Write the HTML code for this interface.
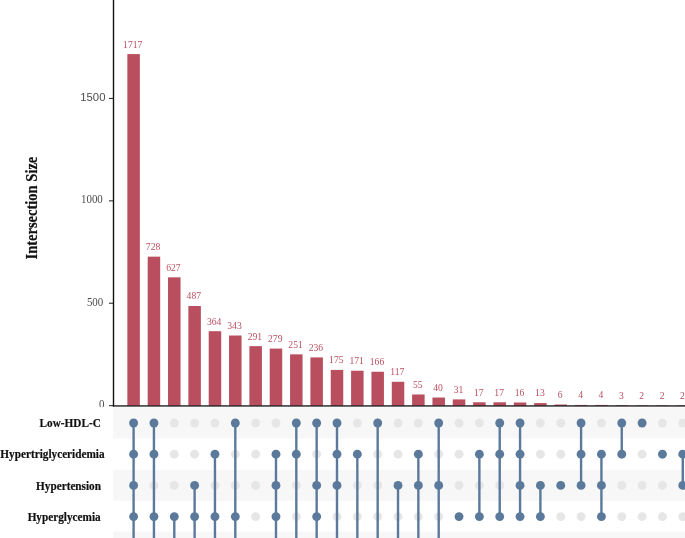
<!DOCTYPE html><html><head><meta charset="utf-8"><title>UpSet</title><style>html,body{margin:0;padding:0;background:#fff}svg{display:block}text{font-family:"Liberation Serif",serif}.s{font-family:"Liberation Sans",sans-serif}</style></head><body>
<svg width="685" height="538" viewBox="0 0 685 538">
<rect width="685" height="538" fill="#fff"/>
<text class="s" x="80.3" y="100.5" font-size="11.3" fill="#4d4d4d">1500</text>
<text transform="translate(81.0,203.3) scale(0.95,1)" font-size="11.5" fill="#4d4d4d">1000</text>
<text transform="translate(86.9,305.9) scale(0.95,1)" font-size="11.5" fill="#4d4d4d">500</text>
<text transform="translate(99.1,407.9) scale(0.95,1)" font-size="11.5" fill="#4d4d4d">0</text>
<rect x="0" y="407.1" width="113.2" height="131" fill="#fff"/>
<rect x="113.2" y="407.5" width="572" height="31.10" fill="#f7f7f7"/>
<rect x="113.2" y="469.7" width="572" height="31.10" fill="#f7f7f7"/>
<rect x="113.2" y="531.6" width="572" height="8.40" fill="#f7f7f7"/>
<rect x="127.35" y="54.11" width="12.5" height="351.64" fill="#b94e5f"/>
<text transform="translate(132.70,47.51) scale(0.945,1)" font-size="10.2" fill="#b94e5f" text-anchor="middle">1717</text>
<rect x="147.69" y="256.66" width="12.5" height="149.09" fill="#b94e5f"/>
<text transform="translate(153.06,250.06) scale(0.945,1)" font-size="10.2" fill="#b94e5f" text-anchor="middle">728</text>
<rect x="168.03" y="277.34" width="12.5" height="128.41" fill="#b94e5f"/>
<text transform="translate(173.42,270.74) scale(0.945,1)" font-size="10.2" fill="#b94e5f" text-anchor="middle">627</text>
<rect x="188.37" y="306.01" width="12.5" height="99.74" fill="#b94e5f"/>
<text transform="translate(193.78,299.41) scale(0.945,1)" font-size="10.2" fill="#b94e5f" text-anchor="middle">487</text>
<rect x="208.71" y="331.20" width="12.5" height="74.55" fill="#b94e5f"/>
<text transform="translate(214.14,324.60) scale(0.945,1)" font-size="10.2" fill="#b94e5f" text-anchor="middle">364</text>
<rect x="229.05" y="335.50" width="12.5" height="70.25" fill="#b94e5f"/>
<text transform="translate(234.50,328.90) scale(0.945,1)" font-size="10.2" fill="#b94e5f" text-anchor="middle">343</text>
<rect x="249.39" y="346.15" width="12.5" height="59.60" fill="#b94e5f"/>
<text transform="translate(254.86,339.55) scale(0.945,1)" font-size="10.2" fill="#b94e5f" text-anchor="middle">291</text>
<rect x="269.73" y="348.61" width="12.5" height="57.14" fill="#b94e5f"/>
<text transform="translate(275.22,342.01) scale(0.945,1)" font-size="10.2" fill="#b94e5f" text-anchor="middle">279</text>
<rect x="290.07" y="354.35" width="12.5" height="51.40" fill="#b94e5f"/>
<text transform="translate(295.58,347.75) scale(0.945,1)" font-size="10.2" fill="#b94e5f" text-anchor="middle">251</text>
<rect x="310.41" y="357.42" width="12.5" height="48.33" fill="#b94e5f"/>
<text transform="translate(315.94,350.82) scale(0.945,1)" font-size="10.2" fill="#b94e5f" text-anchor="middle">236</text>
<rect x="330.75" y="369.91" width="12.5" height="35.84" fill="#b94e5f"/>
<text transform="translate(336.30,363.31) scale(0.945,1)" font-size="10.2" fill="#b94e5f" text-anchor="middle">175</text>
<rect x="351.09" y="370.73" width="12.5" height="35.02" fill="#b94e5f"/>
<text transform="translate(356.66,364.13) scale(0.945,1)" font-size="10.2" fill="#b94e5f" text-anchor="middle">171</text>
<rect x="371.43" y="371.75" width="12.5" height="34.00" fill="#b94e5f"/>
<text transform="translate(377.02,365.15) scale(0.945,1)" font-size="10.2" fill="#b94e5f" text-anchor="middle">166</text>
<rect x="391.77" y="381.79" width="12.5" height="23.96" fill="#b94e5f"/>
<text transform="translate(397.38,375.19) scale(0.945,1)" font-size="10.2" fill="#b94e5f" text-anchor="middle">117</text>
<rect x="412.11" y="394.49" width="12.5" height="11.26" fill="#b94e5f"/>
<text transform="translate(417.74,387.89) scale(0.945,1)" font-size="10.2" fill="#b94e5f" text-anchor="middle">55</text>
<rect x="432.45" y="397.56" width="12.5" height="8.19" fill="#b94e5f"/>
<text transform="translate(438.10,390.96) scale(0.945,1)" font-size="10.2" fill="#b94e5f" text-anchor="middle">40</text>
<rect x="452.79" y="399.40" width="12.5" height="6.35" fill="#b94e5f"/>
<text transform="translate(458.46,392.80) scale(0.945,1)" font-size="10.2" fill="#b94e5f" text-anchor="middle">31</text>
<rect x="473.13" y="402.27" width="12.5" height="3.48" fill="#b94e5f"/>
<text transform="translate(478.82,395.67) scale(0.945,1)" font-size="10.2" fill="#b94e5f" text-anchor="middle">17</text>
<rect x="493.47" y="402.27" width="12.5" height="3.48" fill="#b94e5f"/>
<text transform="translate(499.18,395.67) scale(0.945,1)" font-size="10.2" fill="#b94e5f" text-anchor="middle">17</text>
<rect x="513.81" y="402.47" width="12.5" height="3.28" fill="#b94e5f"/>
<text transform="translate(519.54,395.87) scale(0.945,1)" font-size="10.2" fill="#b94e5f" text-anchor="middle">16</text>
<rect x="534.15" y="403.09" width="12.5" height="2.66" fill="#b94e5f"/>
<text transform="translate(539.90,396.49) scale(0.945,1)" font-size="10.2" fill="#b94e5f" text-anchor="middle">13</text>
<rect x="554.49" y="404.52" width="12.5" height="1.23" fill="#b94e5f"/>
<text transform="translate(560.26,397.92) scale(0.945,1)" font-size="10.2" fill="#b94e5f" text-anchor="middle">6</text>
<rect x="574.83" y="404.93" width="12.5" height="0.82" fill="#b94e5f"/>
<text transform="translate(580.62,398.33) scale(0.945,1)" font-size="10.2" fill="#b94e5f" text-anchor="middle">4</text>
<rect x="595.17" y="404.93" width="12.5" height="0.82" fill="#b94e5f"/>
<text transform="translate(600.98,398.33) scale(0.945,1)" font-size="10.2" fill="#b94e5f" text-anchor="middle">4</text>
<rect x="615.51" y="405.14" width="12.5" height="0.61" fill="#b94e5f"/>
<text transform="translate(621.34,398.54) scale(0.945,1)" font-size="10.2" fill="#b94e5f" text-anchor="middle">3</text>
<rect x="635.85" y="405.34" width="12.5" height="0.41" fill="#b94e5f"/>
<text transform="translate(641.70,398.74) scale(0.945,1)" font-size="10.2" fill="#b94e5f" text-anchor="middle">2</text>
<rect x="656.19" y="405.34" width="12.5" height="0.41" fill="#b94e5f"/>
<text transform="translate(662.06,398.74) scale(0.945,1)" font-size="10.2" fill="#b94e5f" text-anchor="middle">2</text>
<rect x="676.53" y="405.34" width="12.5" height="0.41" fill="#b94e5f"/>
<text transform="translate(682.42,398.74) scale(0.945,1)" font-size="10.2" fill="#b94e5f" text-anchor="middle">2</text>
<rect x="109" y="405.10" width="4.5" height="1.1" fill="#333"/>
<rect x="109" y="302.70" width="4.5" height="1.1" fill="#333"/>
<rect x="109" y="200.30" width="4.5" height="1.1" fill="#333"/>
<rect x="109" y="97.90" width="4.5" height="1.1" fill="#333"/>
<rect x="112.8" y="0" width="1.4" height="406.3" fill="#111"/>
<rect x="112.8" y="405.3" width="573" height="1.3" fill="#111"/>
<circle cx="153.94" cy="485.40" r="4.45" fill="#e6e6e6"/>
<circle cx="174.28" cy="423.00" r="4.45" fill="#e6e6e6"/>
<circle cx="174.28" cy="454.20" r="4.45" fill="#e6e6e6"/>
<circle cx="174.28" cy="485.40" r="4.45" fill="#e6e6e6"/>
<circle cx="194.62" cy="423.00" r="4.45" fill="#e6e6e6"/>
<circle cx="194.62" cy="454.20" r="4.45" fill="#e6e6e6"/>
<circle cx="214.96" cy="423.00" r="4.45" fill="#e6e6e6"/>
<circle cx="214.96" cy="485.40" r="4.45" fill="#e6e6e6"/>
<circle cx="235.30" cy="454.20" r="4.45" fill="#e6e6e6"/>
<circle cx="235.30" cy="485.40" r="4.45" fill="#e6e6e6"/>
<circle cx="255.64" cy="423.00" r="4.45" fill="#e6e6e6"/>
<circle cx="255.64" cy="454.20" r="4.45" fill="#e6e6e6"/>
<circle cx="255.64" cy="485.40" r="4.45" fill="#e6e6e6"/>
<circle cx="255.64" cy="516.60" r="4.45" fill="#e6e6e6"/>
<circle cx="275.98" cy="423.00" r="4.45" fill="#e6e6e6"/>
<circle cx="296.32" cy="485.40" r="4.45" fill="#e6e6e6"/>
<circle cx="296.32" cy="516.60" r="4.45" fill="#e6e6e6"/>
<circle cx="316.66" cy="454.20" r="4.45" fill="#e6e6e6"/>
<circle cx="337.00" cy="516.60" r="4.45" fill="#e6e6e6"/>
<circle cx="357.34" cy="423.00" r="4.45" fill="#e6e6e6"/>
<circle cx="357.34" cy="485.40" r="4.45" fill="#e6e6e6"/>
<circle cx="357.34" cy="516.60" r="4.45" fill="#e6e6e6"/>
<circle cx="377.68" cy="454.20" r="4.45" fill="#e6e6e6"/>
<circle cx="377.68" cy="485.40" r="4.45" fill="#e6e6e6"/>
<circle cx="377.68" cy="516.60" r="4.45" fill="#e6e6e6"/>
<circle cx="398.02" cy="423.00" r="4.45" fill="#e6e6e6"/>
<circle cx="398.02" cy="454.20" r="4.45" fill="#e6e6e6"/>
<circle cx="398.02" cy="516.60" r="4.45" fill="#e6e6e6"/>
<circle cx="418.36" cy="423.00" r="4.45" fill="#e6e6e6"/>
<circle cx="418.36" cy="516.60" r="4.45" fill="#e6e6e6"/>
<circle cx="438.70" cy="454.20" r="4.45" fill="#e6e6e6"/>
<circle cx="438.70" cy="516.60" r="4.45" fill="#e6e6e6"/>
<circle cx="459.04" cy="423.00" r="4.45" fill="#e6e6e6"/>
<circle cx="459.04" cy="454.20" r="4.45" fill="#e6e6e6"/>
<circle cx="459.04" cy="485.40" r="4.45" fill="#e6e6e6"/>
<circle cx="459.04" cy="547.80" r="4.45" fill="#e6e6e6"/>
<circle cx="479.38" cy="423.00" r="4.45" fill="#e6e6e6"/>
<circle cx="479.38" cy="485.40" r="4.45" fill="#e6e6e6"/>
<circle cx="479.38" cy="547.80" r="4.45" fill="#e6e6e6"/>
<circle cx="499.72" cy="485.40" r="4.45" fill="#e6e6e6"/>
<circle cx="499.72" cy="547.80" r="4.45" fill="#e6e6e6"/>
<circle cx="520.06" cy="547.80" r="4.45" fill="#e6e6e6"/>
<circle cx="540.40" cy="423.00" r="4.45" fill="#e6e6e6"/>
<circle cx="540.40" cy="454.20" r="4.45" fill="#e6e6e6"/>
<circle cx="540.40" cy="547.80" r="4.45" fill="#e6e6e6"/>
<circle cx="560.74" cy="423.00" r="4.45" fill="#e6e6e6"/>
<circle cx="560.74" cy="454.20" r="4.45" fill="#e6e6e6"/>
<circle cx="560.74" cy="516.60" r="4.45" fill="#e6e6e6"/>
<circle cx="560.74" cy="547.80" r="4.45" fill="#e6e6e6"/>
<circle cx="581.08" cy="516.60" r="4.45" fill="#e6e6e6"/>
<circle cx="581.08" cy="547.80" r="4.45" fill="#e6e6e6"/>
<circle cx="601.42" cy="423.00" r="4.45" fill="#e6e6e6"/>
<circle cx="601.42" cy="547.80" r="4.45" fill="#e6e6e6"/>
<circle cx="621.76" cy="485.40" r="4.45" fill="#e6e6e6"/>
<circle cx="621.76" cy="516.60" r="4.45" fill="#e6e6e6"/>
<circle cx="621.76" cy="547.80" r="4.45" fill="#e6e6e6"/>
<circle cx="642.10" cy="454.20" r="4.45" fill="#e6e6e6"/>
<circle cx="642.10" cy="485.40" r="4.45" fill="#e6e6e6"/>
<circle cx="642.10" cy="516.60" r="4.45" fill="#e6e6e6"/>
<circle cx="642.10" cy="547.80" r="4.45" fill="#e6e6e6"/>
<circle cx="662.44" cy="423.00" r="4.45" fill="#e6e6e6"/>
<circle cx="662.44" cy="485.40" r="4.45" fill="#e6e6e6"/>
<circle cx="662.44" cy="516.60" r="4.45" fill="#e6e6e6"/>
<circle cx="662.44" cy="547.80" r="4.45" fill="#e6e6e6"/>
<circle cx="682.78" cy="423.00" r="4.45" fill="#e6e6e6"/>
<circle cx="682.78" cy="516.60" r="4.45" fill="#e6e6e6"/>
<circle cx="682.78" cy="547.80" r="4.45" fill="#e6e6e6"/>
<line x1="133.60" x2="133.60" y1="423.00" y2="547.80" stroke="#5b7a9b" stroke-width="2.4"/>
<circle cx="133.60" cy="423.00" r="4.45" fill="#5b7a9b"/>
<circle cx="133.60" cy="454.20" r="4.45" fill="#5b7a9b"/>
<circle cx="133.60" cy="485.40" r="4.45" fill="#5b7a9b"/>
<circle cx="133.60" cy="516.60" r="4.45" fill="#5b7a9b"/>
<circle cx="133.60" cy="547.80" r="4.45" fill="#5b7a9b"/>
<line x1="153.94" x2="153.94" y1="423.00" y2="547.80" stroke="#5b7a9b" stroke-width="2.4"/>
<circle cx="153.94" cy="423.00" r="4.45" fill="#5b7a9b"/>
<circle cx="153.94" cy="454.20" r="4.45" fill="#5b7a9b"/>
<circle cx="153.94" cy="516.60" r="4.45" fill="#5b7a9b"/>
<circle cx="153.94" cy="547.80" r="4.45" fill="#5b7a9b"/>
<line x1="174.28" x2="174.28" y1="516.60" y2="547.80" stroke="#5b7a9b" stroke-width="2.4"/>
<circle cx="174.28" cy="516.60" r="4.45" fill="#5b7a9b"/>
<circle cx="174.28" cy="547.80" r="4.45" fill="#5b7a9b"/>
<line x1="194.62" x2="194.62" y1="485.40" y2="547.80" stroke="#5b7a9b" stroke-width="2.4"/>
<circle cx="194.62" cy="485.40" r="4.45" fill="#5b7a9b"/>
<circle cx="194.62" cy="516.60" r="4.45" fill="#5b7a9b"/>
<circle cx="194.62" cy="547.80" r="4.45" fill="#5b7a9b"/>
<line x1="214.96" x2="214.96" y1="454.20" y2="547.80" stroke="#5b7a9b" stroke-width="2.4"/>
<circle cx="214.96" cy="454.20" r="4.45" fill="#5b7a9b"/>
<circle cx="214.96" cy="516.60" r="4.45" fill="#5b7a9b"/>
<circle cx="214.96" cy="547.80" r="4.45" fill="#5b7a9b"/>
<line x1="235.30" x2="235.30" y1="423.00" y2="547.80" stroke="#5b7a9b" stroke-width="2.4"/>
<circle cx="235.30" cy="423.00" r="4.45" fill="#5b7a9b"/>
<circle cx="235.30" cy="516.60" r="4.45" fill="#5b7a9b"/>
<circle cx="235.30" cy="547.80" r="4.45" fill="#5b7a9b"/>
<circle cx="255.64" cy="547.80" r="4.45" fill="#5b7a9b"/>
<line x1="275.98" x2="275.98" y1="454.20" y2="547.80" stroke="#5b7a9b" stroke-width="2.4"/>
<circle cx="275.98" cy="454.20" r="4.45" fill="#5b7a9b"/>
<circle cx="275.98" cy="485.40" r="4.45" fill="#5b7a9b"/>
<circle cx="275.98" cy="516.60" r="4.45" fill="#5b7a9b"/>
<circle cx="275.98" cy="547.80" r="4.45" fill="#5b7a9b"/>
<line x1="296.32" x2="296.32" y1="423.00" y2="547.80" stroke="#5b7a9b" stroke-width="2.4"/>
<circle cx="296.32" cy="423.00" r="4.45" fill="#5b7a9b"/>
<circle cx="296.32" cy="454.20" r="4.45" fill="#5b7a9b"/>
<circle cx="296.32" cy="547.80" r="4.45" fill="#5b7a9b"/>
<line x1="316.66" x2="316.66" y1="423.00" y2="547.80" stroke="#5b7a9b" stroke-width="2.4"/>
<circle cx="316.66" cy="423.00" r="4.45" fill="#5b7a9b"/>
<circle cx="316.66" cy="485.40" r="4.45" fill="#5b7a9b"/>
<circle cx="316.66" cy="516.60" r="4.45" fill="#5b7a9b"/>
<circle cx="316.66" cy="547.80" r="4.45" fill="#5b7a9b"/>
<line x1="337.00" x2="337.00" y1="423.00" y2="547.80" stroke="#5b7a9b" stroke-width="2.4"/>
<circle cx="337.00" cy="423.00" r="4.45" fill="#5b7a9b"/>
<circle cx="337.00" cy="454.20" r="4.45" fill="#5b7a9b"/>
<circle cx="337.00" cy="485.40" r="4.45" fill="#5b7a9b"/>
<circle cx="337.00" cy="547.80" r="4.45" fill="#5b7a9b"/>
<line x1="357.34" x2="357.34" y1="454.20" y2="547.80" stroke="#5b7a9b" stroke-width="2.4"/>
<circle cx="357.34" cy="454.20" r="4.45" fill="#5b7a9b"/>
<circle cx="357.34" cy="547.80" r="4.45" fill="#5b7a9b"/>
<line x1="377.68" x2="377.68" y1="423.00" y2="547.80" stroke="#5b7a9b" stroke-width="2.4"/>
<circle cx="377.68" cy="423.00" r="4.45" fill="#5b7a9b"/>
<circle cx="377.68" cy="547.80" r="4.45" fill="#5b7a9b"/>
<line x1="398.02" x2="398.02" y1="485.40" y2="547.80" stroke="#5b7a9b" stroke-width="2.4"/>
<circle cx="398.02" cy="485.40" r="4.45" fill="#5b7a9b"/>
<circle cx="398.02" cy="547.80" r="4.45" fill="#5b7a9b"/>
<line x1="418.36" x2="418.36" y1="454.20" y2="547.80" stroke="#5b7a9b" stroke-width="2.4"/>
<circle cx="418.36" cy="454.20" r="4.45" fill="#5b7a9b"/>
<circle cx="418.36" cy="485.40" r="4.45" fill="#5b7a9b"/>
<circle cx="418.36" cy="547.80" r="4.45" fill="#5b7a9b"/>
<line x1="438.70" x2="438.70" y1="423.00" y2="547.80" stroke="#5b7a9b" stroke-width="2.4"/>
<circle cx="438.70" cy="423.00" r="4.45" fill="#5b7a9b"/>
<circle cx="438.70" cy="485.40" r="4.45" fill="#5b7a9b"/>
<circle cx="438.70" cy="547.80" r="4.45" fill="#5b7a9b"/>
<circle cx="459.04" cy="516.60" r="4.45" fill="#5b7a9b"/>
<line x1="479.38" x2="479.38" y1="454.20" y2="516.60" stroke="#5b7a9b" stroke-width="2.4"/>
<circle cx="479.38" cy="454.20" r="4.45" fill="#5b7a9b"/>
<circle cx="479.38" cy="516.60" r="4.45" fill="#5b7a9b"/>
<line x1="499.72" x2="499.72" y1="423.00" y2="516.60" stroke="#5b7a9b" stroke-width="2.4"/>
<circle cx="499.72" cy="423.00" r="4.45" fill="#5b7a9b"/>
<circle cx="499.72" cy="454.20" r="4.45" fill="#5b7a9b"/>
<circle cx="499.72" cy="516.60" r="4.45" fill="#5b7a9b"/>
<line x1="520.06" x2="520.06" y1="423.00" y2="516.60" stroke="#5b7a9b" stroke-width="2.4"/>
<circle cx="520.06" cy="423.00" r="4.45" fill="#5b7a9b"/>
<circle cx="520.06" cy="454.20" r="4.45" fill="#5b7a9b"/>
<circle cx="520.06" cy="485.40" r="4.45" fill="#5b7a9b"/>
<circle cx="520.06" cy="516.60" r="4.45" fill="#5b7a9b"/>
<line x1="540.40" x2="540.40" y1="485.40" y2="516.60" stroke="#5b7a9b" stroke-width="2.4"/>
<circle cx="540.40" cy="485.40" r="4.45" fill="#5b7a9b"/>
<circle cx="540.40" cy="516.60" r="4.45" fill="#5b7a9b"/>
<circle cx="560.74" cy="485.40" r="4.45" fill="#5b7a9b"/>
<line x1="581.08" x2="581.08" y1="423.00" y2="485.40" stroke="#5b7a9b" stroke-width="2.4"/>
<circle cx="581.08" cy="423.00" r="4.45" fill="#5b7a9b"/>
<circle cx="581.08" cy="454.20" r="4.45" fill="#5b7a9b"/>
<circle cx="581.08" cy="485.40" r="4.45" fill="#5b7a9b"/>
<line x1="601.42" x2="601.42" y1="454.20" y2="516.60" stroke="#5b7a9b" stroke-width="2.4"/>
<circle cx="601.42" cy="454.20" r="4.45" fill="#5b7a9b"/>
<circle cx="601.42" cy="485.40" r="4.45" fill="#5b7a9b"/>
<circle cx="601.42" cy="516.60" r="4.45" fill="#5b7a9b"/>
<line x1="621.76" x2="621.76" y1="423.00" y2="454.20" stroke="#5b7a9b" stroke-width="2.4"/>
<circle cx="621.76" cy="423.00" r="4.45" fill="#5b7a9b"/>
<circle cx="621.76" cy="454.20" r="4.45" fill="#5b7a9b"/>
<circle cx="642.10" cy="423.00" r="4.45" fill="#5b7a9b"/>
<circle cx="662.44" cy="454.20" r="4.45" fill="#5b7a9b"/>
<line x1="682.78" x2="682.78" y1="454.20" y2="485.40" stroke="#5b7a9b" stroke-width="2.4"/>
<circle cx="682.78" cy="454.20" r="4.45" fill="#5b7a9b"/>
<circle cx="682.78" cy="485.40" r="4.45" fill="#5b7a9b"/>
<text transform="translate(100.8,427.10) scale(0.9375,1)" font-size="12" font-weight="bold" fill="#111" stroke="#111" stroke-width="0.2" text-anchor="end">Low-HDL-C</text>
<text transform="translate(104.6,458.30) scale(0.9375,1)" font-size="12" font-weight="bold" fill="#111" stroke="#111" stroke-width="0.2" text-anchor="end">Hypertriglyceridemia</text>
<text transform="translate(101.0,489.50) scale(0.9375,1)" font-size="12" font-weight="bold" fill="#111" stroke="#111" stroke-width="0.2" text-anchor="end">Hypertension</text>
<text transform="translate(100.7,520.70) scale(0.9375,1)" font-size="12" font-weight="bold" fill="#111" stroke="#111" stroke-width="0.2" text-anchor="end">Hyperglycemia</text>
<text transform="translate(36.9,208.1) rotate(-90) scale(0.908,1)" font-size="16" font-weight="bold" fill="#111" stroke="#111" stroke-width="0.2" text-anchor="middle">Intersection Size</text>
</svg></body></html>
